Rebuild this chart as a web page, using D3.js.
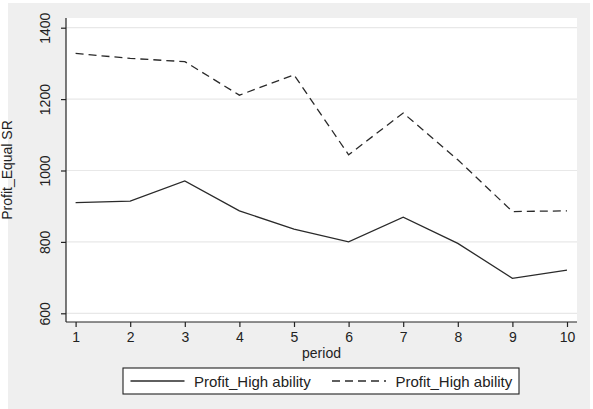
<!DOCTYPE html>
<html lang="en">
<head>
    <meta charset="utf-8">
    <title>Profit_Equal SR</title>
    <script src="https://d3js.org/d3.v7.min.js"></script>
    <style>
        * {
            margin: 0;
            padding: 0;
        }
        body {
            background: white;
            width: 593px;
            height: 409px;
            overflow: hidden;
        }
        text {
            font-family: "Liberation Sans", Arial, sans-serif;
            fill: #222;
        }
    </style>
</head>
<body>
<div id="container"></div>
<script>
    const periods = [1, 2, 3, 4, 5, 6, 7, 8, 9, 10];
    const profitSolid = [910, 914, 971, 887, 836, 800, 869, 796, 698, 721];
    const profitDashed = [1328, 1314, 1305, 1211, 1268, 1044, 1161, 1030, 885, 887];
    const yTicks = [600, 800, 1000, 1200, 1400];
    const legendLabels = ["Profit_High ability", "Profit_High ability"];

    const w = 593;
    const h = 409;
    const plot = { left: 66, right: 577, top: 18, bottom: 322 };

    const svg = d3.select("#container")
        .append("svg")
        .attr("width", w)
        .attr("height", h);

    // outer gray panel
    svg.append("rect")
        .attr("x", 8).attr("y", 3)
        .attr("width", 582).attr("height", 406)
        .attr("fill", "#efefef");

    // plot region
    svg.append("rect")
        .attr("x", plot.left).attr("y", plot.top)
        .attr("width", plot.right - plot.left)
        .attr("height", plot.bottom - plot.top)
        .attr("fill", "white");

    const xScale = d3.scaleLinear().domain([1, 10]).range([75.6, 567]);
    const yScale = d3.scaleLinear().domain([600, 1400]).range([313.3, 27.7]);

    // gridlines
    svg.append("g")
        .selectAll("line")
        .data(yTicks)
        .enter()
        .append("line")
        .attr("x1", plot.left).attr("x2", plot.right)
        .attr("y1", d => yScale(d)).attr("y2", d => yScale(d))
        .attr("stroke", "#e8e8e8")
        .attr("stroke-width", 1.2);

    const line = d3.line()
        .x((d, i) => xScale(periods[i]))
        .y(d => yScale(d));

    svg.append("path")
        .datum(profitSolid)
        .attr("d", line)
        .attr("fill", "none")
        .attr("stroke", "#2a2a2a")
        .attr("stroke-width", 1.3);

    svg.append("path")
        .datum(profitDashed)
        .attr("d", line)
        .attr("fill", "none")
        .attr("stroke", "#2a2a2a")
        .attr("stroke-width", 1.3)
        .attr("stroke-dasharray", "8,5");

    // axes
    const xAxis = d3.axisBottom(xScale).tickValues(periods).tickSize(5).tickPadding(5);
    const gx = svg.append("g")
        .attr("transform", `translate(0, ${plot.bottom})`)
        .call(xAxis);
    gx.select(".domain").attr("d", `M${plot.left},0H${plot.right}`);

    const yAxis = d3.axisLeft(yScale).tickValues(yTicks).tickFormat(d3.format("d")).tickSize(5);
    const gy = svg.append("g")
        .attr("transform", `translate(${plot.left}, 0)`)
        .call(yAxis);
    gy.select(".domain").attr("d", `M0,${plot.top}V${plot.bottom}`);
    gy.selectAll(".tick text")
        .attr("x", null)
        .attr("text-anchor", "middle")
        .attr("transform", "translate(-21,0) rotate(-90)")
        .attr("dy", "0.35em");

    [gx, gy].forEach(g => {
        g.selectAll(".domain, .tick line").attr("stroke", "#222").attr("stroke-width", 1.2);
        g.selectAll("text").attr("font-size", 14).attr("fill", "#222")
            .attr("font-family", "Liberation Sans, Arial, sans-serif");
    });

    // axis titles
    svg.append("text")
        .attr("x", (plot.left + plot.right) / 2)
        .attr("y", 358)
        .attr("text-anchor", "middle")
        .attr("font-size", 14)
        .text("period");

    svg.append("text")
        .attr("transform", `translate(12, ${(plot.top + plot.bottom) / 2}) rotate(-90)`)
        .attr("text-anchor", "middle")
        .attr("font-size", 14)
        .text("Profit_Equal SR");

    // legend
    const legend = svg.append("g");
    legend.append("rect")
        .attr("x", 123).attr("y", 368)
        .attr("width", 396).attr("height", 26)
        .attr("fill", "white")
        .attr("stroke", "#222")
        .attr("stroke-width", 1.1);

    const legendItems = [
        { x: 130.5, dash: null, label: legendLabels[0] },
        { x: 332, dash: "8,5", label: legendLabels[1] }
    ];
    legendItems.forEach(it => {
        legend.append("line")
            .attr("x1", it.x).attr("x2", it.x + 54)
            .attr("y1", 381).attr("y2", 381)
            .attr("stroke", "#2a2a2a")
            .attr("stroke-width", 1.3)
            .attr("stroke-dasharray", it.dash);
        legend.append("text")
            .attr("x", it.x + 63.5)
            .attr("y", 386.5)
            .attr("font-size", 15)
            .text(it.label);
    });
</script>
</body>
</html>
